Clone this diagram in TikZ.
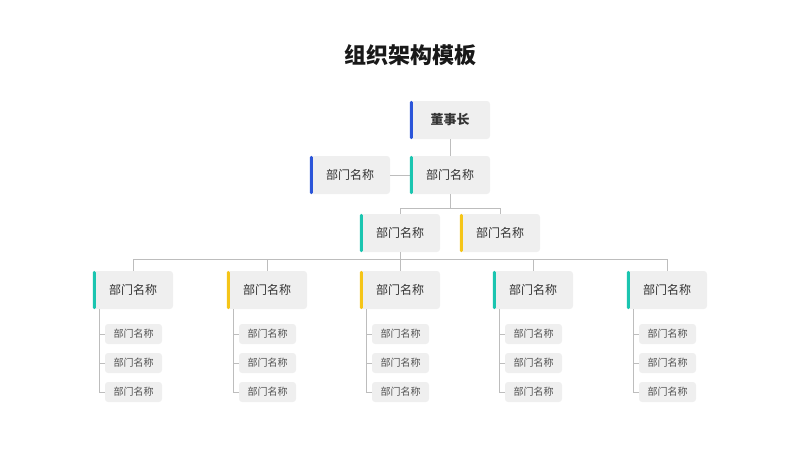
\documentclass[tikz,border=0pt]{standalone}
\usepackage{fontspec}
\setmainfont{Noto Sans CJK SC}
\definecolor{boxfill}{HTML}{EFEFEF}
\definecolor{txt}{HTML}{333333}
\definecolor{cblue}{HTML}{2B55D9}
\definecolor{cteal}{HTML}{1BC5B0}
\definecolor{cyel}{HTML}{F5C518}
\definecolor{lgray}{HTML}{BDBDBD}
\begin{document}
\begin{tikzpicture}[x=1pt,y=-1pt,
  bigbox/.style={fill=boxfill,rounded corners=3pt,minimum width=80pt,minimum height=38pt,inner sep=0pt,text=txt,font=\fontsize{12}{14}\selectfont},
  smallbox/.style={fill=boxfill,rounded corners=3pt,minimum width=57pt,minimum height=20pt,inner sep=0pt,text=txt!85,font=\fontsize{10}{12}\selectfont},
  conn/.style={draw=lgray,line width=0.8pt}]
\useasboundingbox (0,0) rectangle (800,450);
\newcommand{\accbar}[2]{\fill[#2,rounded corners=1.5pt] (#1.north west) rectangle ([xshift=3pt]#1.south west);}
\node[font=\fontsize{22}{26}\selectfont\bfseries,text=black!90] (title) at (410,55) {组织架构模板};
\node[bigbox,font=\fontsize{13}{15}\selectfont\bfseries] (ceo) at (450,120) {董事长};
\node[bigbox] (m) at (450,175) {部门名称};
\node[bigbox] (l) at (350,175) {部门名称};
\node[bigbox] (a) at (400,233) {部门名称};
\node[bigbox] (b) at (500,233) {部门名称};
\draw[conn] (ceo) -- (m);
\draw[conn] (l) -- (m);
\draw[conn] (m.south) -- (450,208) -| (a.north);
\draw[conn] (450,208) -| (b.north);
\draw[conn] (a.south) -- (400,259);
\draw[conn] (133,259) -- (667,259);
\accbar{ceo}{cblue}\accbar{m}{cteal}\accbar{l}{cblue}\accbar{a}{cteal}\accbar{b}{cyel}
\foreach \i/\cx/\col in {1/133/cteal,2/267/cyel,3/400/cyel,4/533/cteal,5/667/cteal}{
  \node[bigbox] (d\i) at (\cx,290) {部门名称};
  \draw[conn] (\cx,259) -- (d\i.north);
  \accbar{d\i}{\col}
  \foreach \j/\cy in {1/334,2/363,3/392}{
    \node[smallbox] (s\i\j) at (\cx+0.5,\cy) {部门名称};
  }
  \draw[conn] (\cx-34,309) -- (\cx-34,392) -- (s\i3.west);
  \draw[conn] (\cx-34,334) -- (s\i1.west);
  \draw[conn] (\cx-34,363) -- (s\i2.west);
}
\end{tikzpicture}
\end{document}
